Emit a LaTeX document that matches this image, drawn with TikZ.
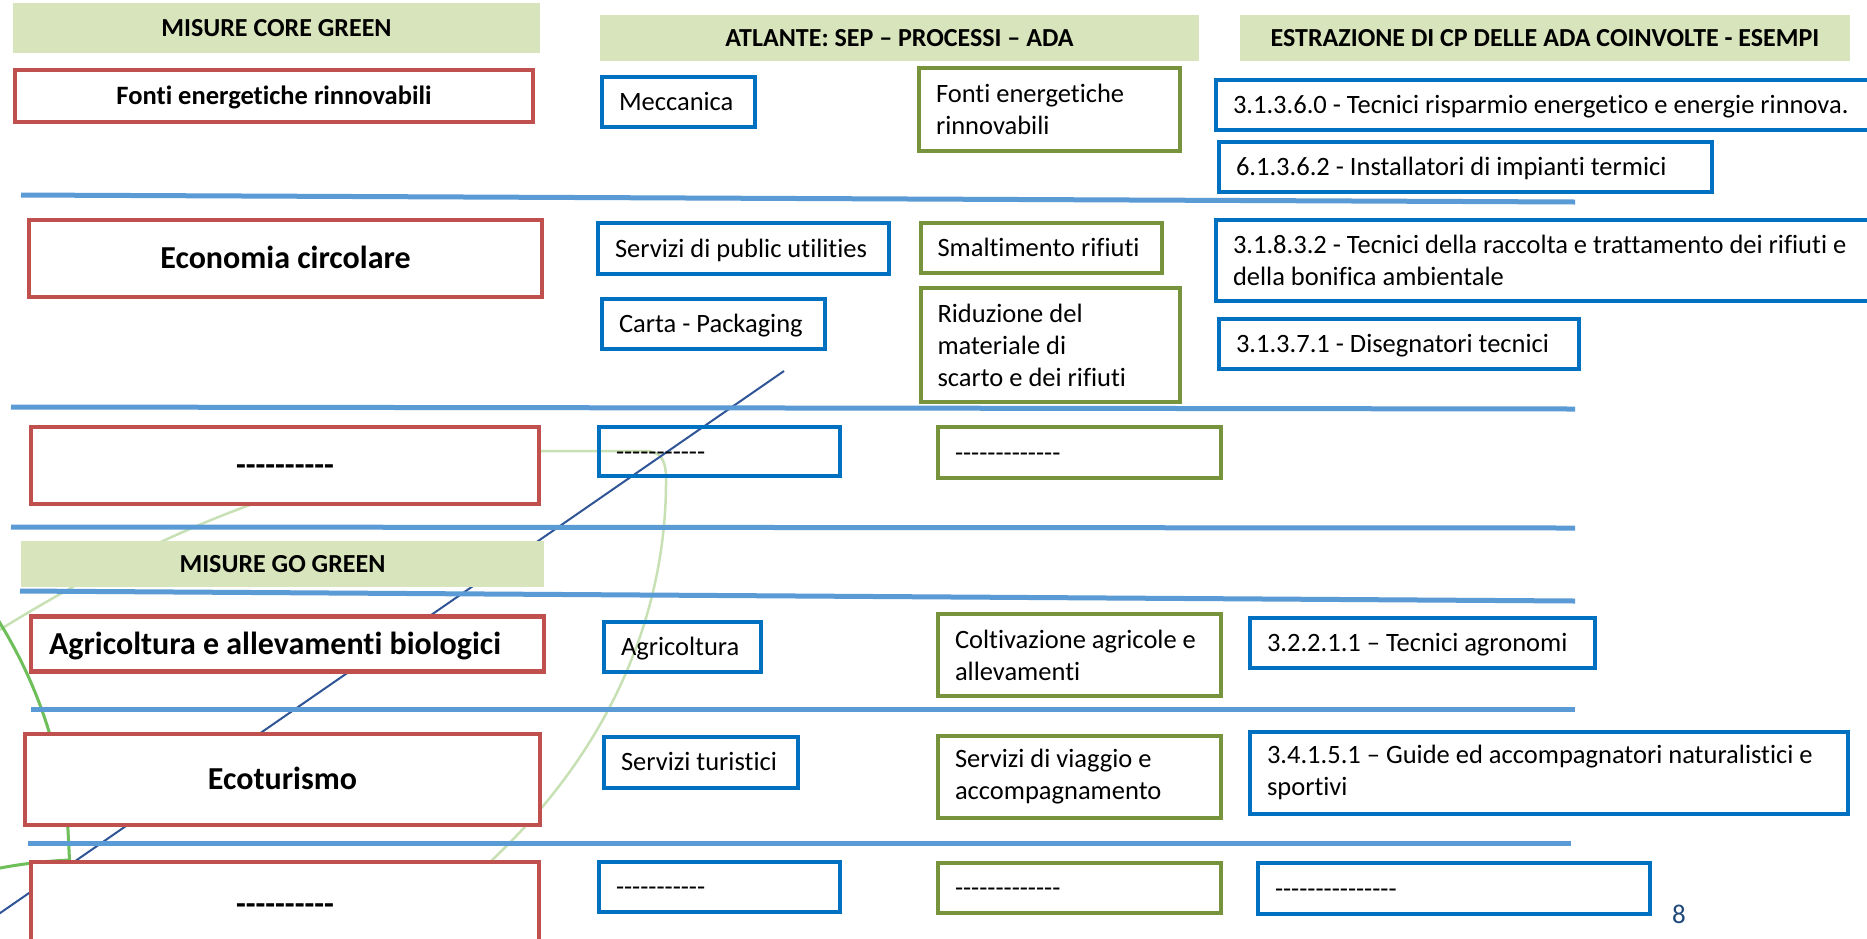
\documentclass[tikz,border=0pt]{standalone}
\usepackage{fontspec}
\setmainfont{Carlito}[Ligatures={TeXOff,NoCommon}]
\usepackage{tikz}
\usetikzlibrary{positioning}
\definecolor{HeadGreen}{RGB}{216,228,188}
\definecolor{MeasRed}{RGB}{192,80,77}
\definecolor{SepBlue}{RGB}{0,112,192}
\definecolor{AdaGreen}{RGB}{119,147,60}
\definecolor{RuleBlue}{RGB}{91,155,213}
\definecolor{DiagBlue}{RGB}{47,85,151}
\definecolor{LeafLight}{RGB}{200,225,180}
\definecolor{LeafGreen}{RGB}{110,190,90}
\definecolor{PageBlue}{RGB}{31,73,125}
\tikzset{
  head/.style={fill=HeadGreen,inner sep=0pt,font=\fontsize{26}{31}\selectfont\bfseries,
    text height=16.7pt,text depth=0pt},
  measure/.style={draw=MeasRed,line width=4.5pt,fill=white,inner sep=0pt,
    font=\fontsize{32}{38}\selectfont\bfseries,text height=20.6pt,text depth=0pt},
  sep/.style={draw=SepBlue,line width=4pt,inner xsep=17pt,inner ysep=0pt,align=flush left,
    font=\fontsize{26.5}{32}\selectfont},
  ada/.style={sep,draw=AdaGreen},
  one/.style={text height=17.1pt,text depth=0pt},
}
\tikzset{rule/.style={draw=RuleBlue,line width=5pt},diag/.style={draw=DiagBlue,line width=2pt},
  leaflight/.style={draw=LeafLight,line width=2.5pt},leaf/.style={draw=LeafGreen,line width=3pt}}

\begin{document}
\begin{tikzpicture}[x=1pt,y=-1pt]
\useasboundingbox (0,0) rectangle (1867,938);
\fill[white] (0,0) rectangle (1867,938);
\clip (0,0) rectangle (1867,938);
\draw[leaflight] (-20,642) .. controls (150,535) and (330,452) .. (540,451) -- (645,451)
  .. controls (662,451) and (666,462) .. (666,478) .. controls (667,600) and (620,750) .. (470,880);
\draw[leaf] (-5,615) .. controls (30,670) and (60,740) .. (68,830) -- (70,870);
\draw[leaf] (-5,869) .. controls (20,864) and (45,861) .. (70,860);
\coordinate (da) at (784,371);
\coordinate (db) at (-10,920);
\draw[diag] (da)--(db);
\coordinate (l1a) at (21,195);
\coordinate (l1b) at (1575,202);
\coordinate (l2a) at (11,407);
\coordinate (l2b) at (1575,409);
\coordinate (l3a) at (11,527);
\coordinate (l3b) at (1575,528);
\coordinate (l4a) at (20,591);
\coordinate (l4b) at (1575,601);
\coordinate (l5a) at (31,709);
\coordinate (l5b) at (1575,709);
\coordinate (l6a) at (28,843);
\coordinate (l6b) at (1571,843);
\draw[rule] (l1a)--(l1b);
\draw[rule] (l2a)--(l2b);
\draw[rule] (l3a)--(l3b);
\draw[rule] (l4a)--(l4b);
\draw[rule] (l5a)--(l5b);
\draw[rule] (l6a)--(l6b);
\node[head,minimum width=527pt,minimum height=50pt] (hcore) at (276.5,28) {MISURE CORE GREEN};
\node[head,minimum width=599pt,minimum height=46pt] (hatl) at (899.5,38) {ATLANTE: SEP – PROCESSI – ADA};
\node[head,minimum width=610pt,minimum height=46pt] (hcp) at (1545,38) {ESTRAZIONE DI CP DELLE ADA COINVOLTE - ESEMPI};
\node[head,minimum width=523pt,minimum height=46pt] (hgo) at (282.5,564) {MISURE GO GREEN};
\node[measure,minimum width=518pt,minimum height=52pt,font=\fontsize{26.5}{32}\selectfont\bfseries,text height=17pt] (rfonti) at (274,96) {Fonti energetiche rinnovabili};
\node[measure,minimum width=513pt,minimum height=77pt] (reco) at (285.5,258.5) {Economia circolare};
\node[measure,minimum width=508pt,minimum height=77pt] (rvoid) at (285,465.5) {----------};
\node[measure,minimum height=55pt,align=flush left,text width=477pt,inner xsep=18pt] (ragri) at (287.5,644) {Agricoltura e allevamenti biologici};
\node[measure,minimum width=515pt,minimum height=91pt] (reco2) at (282.5,779.5) {Ecoturismo};
\node[measure,minimum width=508pt,minimum height=84pt] (rvoid2) at (285,904) {----------};
\node[sep,one,text width=119pt,minimum height=50pt] (bmecc) at (678.5,102) {Meccanica};
\node[sep,one,text width=257pt,minimum height=51pt] (bpub) at (743.5,248.5) {Servizi di public utilities};
\node[sep,one,text width=189pt,minimum height=50pt] (bcarta) at (713.5,324) {Carta - Packaging};
\node[sep,one,text width=207pt,minimum height=49pt] (bvoid) at (719.5,451.5) {-----------};
\node[sep,one,text width=123pt,minimum height=49.5pt] (bagri) at (682.5,646.75) {Agricoltura};
\node[sep,one,text width=160pt,minimum height=50.5pt] (btur) at (701,762.25) {Servizi turistici};
\node[sep,one,text width=207pt,minimum height=50pt] (bvoid2) at (719.5,887) {-----------};
\node[ada,text width=227pt,minimum height=83pt] (gfonti) at (1049.5,109.5) {Fonti energetiche\\rinnovabili};
\node[ada,one,text width=207.5pt,minimum height=50pt] (gsmalt) at (1041.25,248) {Smaltimento rifiuti};
\node[ada,text width=225.5pt,minimum height=114pt] (gridu) at (1050.25,345) {Riduzione del\\materiale di\\scarto e dei rifiuti};
\node[ada,one,text width=249pt,minimum height=51pt] (gvoid) at (1079.5,452.5) {-------------};
\node[ada,text width=249pt,minimum height=82pt] (gcolt) at (1079.5,655) {Coltivazione agricole e\\allevamenti};
\node[ada,text width=249pt,minimum height=82pt] (gviag) at (1079.5,777) {Servizi di viaggio e\\accompagnamento};
\node[ada,one,text width=249pt,minimum height=50pt] (gvoid2) at (1079.5,888) {-------------};
\node[sep,one,text width=648pt,minimum height=50pt] (cris) at (1557,105) {3.1.3.6.0 - Tecnici risparmio energetico e energie rinnova.};
\node[sep,one,text width=459pt,minimum height=50pt] (cinst) at (1465.5,167) {6.1.3.6.2 - Installatori di impianti termici};
\node[sep,text width=648pt,minimum height=81pt] (craccolta) at (1557,260.5) {3.1.8.3.2 - Tecnici della raccolta e trattamento dei rifiuti e\\della bonifica ambientale};
\node[sep,one,text width=326pt,minimum height=50pt] (cdis) at (1399,344) {3.1.3.7.1 - Disegnatori tecnici};
\node[sep,one,text width=311pt,minimum height=50.5pt] (cagro) at (1422.5,642.75) {3.2.2.1.1 – Tecnici agronomi};
\node[sep,text width=564pt,minimum height=82.5pt] (cguide) at (1549,772.75) {3.4.1.5.1 – Guide ed accompagnatori naturalistici e\\sportivi};
\node[sep,one,text width=358pt,minimum height=51pt] (cvoid) at (1454,888.5) {---------------};
\node[font=\fontsize{27}{32}\selectfont,text=PageBlue,inner sep=0pt] (pnum) at (1679,914.5) {8};
\end{tikzpicture}
\end{document}
